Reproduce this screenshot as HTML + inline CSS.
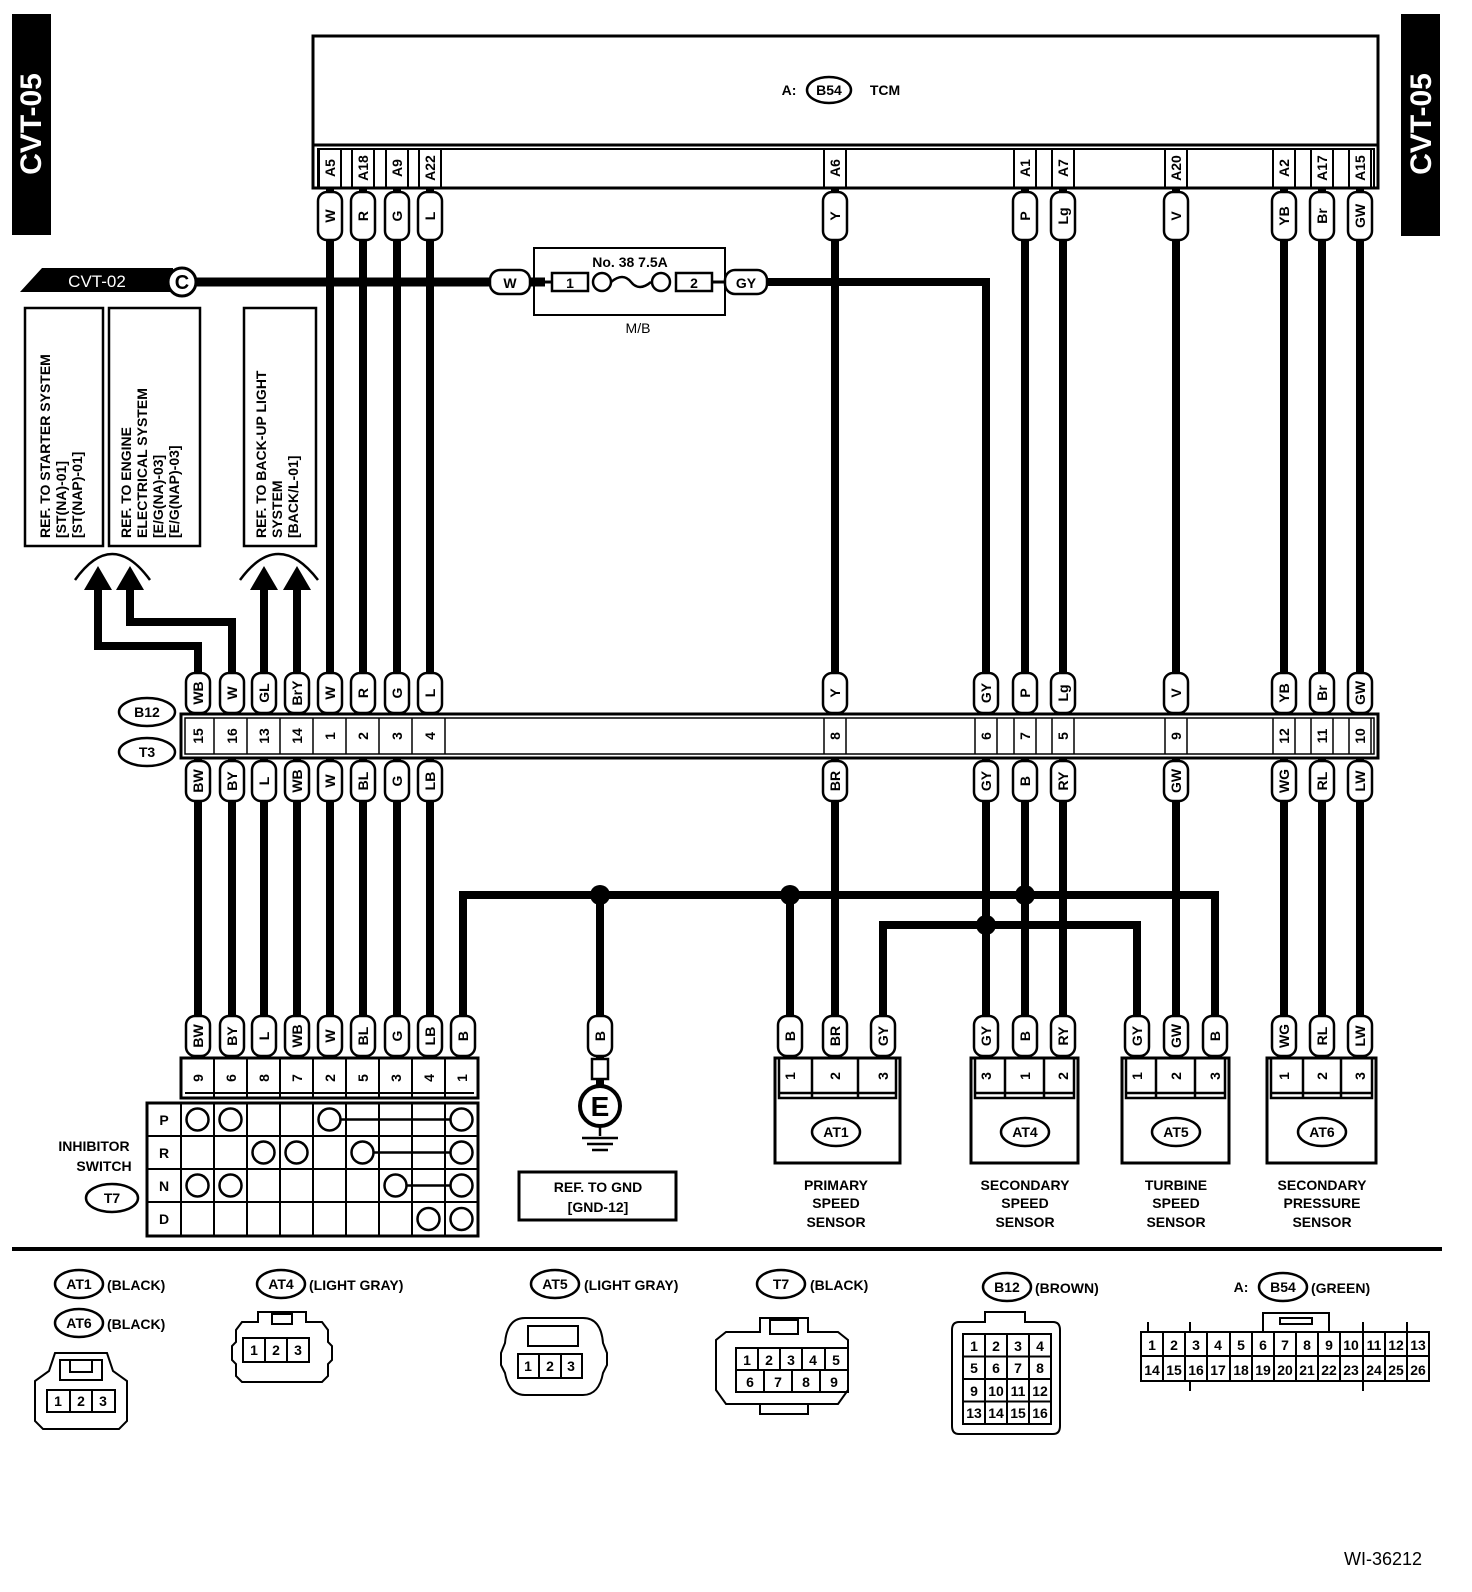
<!DOCTYPE html>
<html><head><meta charset="utf-8"><style>
body{margin:0;background:#fff}
svg{display:block}
text{font-family:"Liberation Sans",sans-serif;font-weight:bold;font-size:14px;text-anchor:middle;fill:#000}
.p rect{fill:#fff;stroke:#000;stroke-width:2.5}
.w{fill:none;stroke:#000;stroke-width:8}
.t{fill:none;stroke:#000;stroke-width:2.5}
.c{fill:#fff;stroke:#000;stroke-width:2.5}
.n{font-weight:normal;font-size:14px}
.s{text-anchor:start}
</style></head><body>
<svg width="1472" height="1592" viewBox="0 0 1472 1592" xmlns="http://www.w3.org/2000/svg">
<rect width="1472" height="1592" fill="#fff"/>
<rect x="12" y="14" width="39" height="221" fill="#000"/>
<text transform="translate(41,124) rotate(-90)" style="fill:#fff;font-size:30px">CVT-05</text>
<rect x="1401" y="14" width="39" height="222" fill="#000"/>
<text transform="translate(1431,124) rotate(-90)" style="fill:#fff;font-size:30px">CVT-05</text>

<g class="w">
<path d="M330 188V1058M363 188V1058M397 188V1058M430 188V1058M835 188V1058"/>
<path d="M1025 188V1058M1063 188V1058M1176 188V1058M1284 188V1058M1322 188V1058M1360 188V1058"/>
<path d="M750 282H986V1058" />
<path d="M198 1058V646H98V588M232 1058V622H130V588M264 1058V588M297 1058V588"/>
<path d="M463 1058V895H1215V1058M790 895V1058M600 895V1095M883 1058V925H1137V1058"/>
</g>
<path d="M190 282H545" stroke="#000" stroke-width="9"/>
<g fill="#000">
<circle cx="600" cy="895" r="10"/><circle cx="790" cy="895" r="10"/><circle cx="1025" cy="895" r="10"/><circle cx="986" cy="925" r="10"/>
<polygon points="98,566 84,590 112,590"/><polygon points="130,566 116,590 144,590"/>
<polygon points="264,566 250,590 278,590"/><polygon points="297,566 283,590 311,590"/>
</g>
<path class="t" d="M75 580Q112 528 150 580M240 580Q278 528 318 580"/>

<polygon points="20,292 42,268 173,268 173,292" fill="#000"/>
<text x="97" y="287" style="fill:#fff;font-weight:normal;font-size:17px">CVT-02</text>
<circle cx="182" cy="282" r="14" fill="#fff" stroke="#000" stroke-width="3"/>
<text x="182" y="289" style="font-size:20px">C</text>

<rect x="313" y="36" width="1065" height="152" class="t" fill="#fff" style="stroke-width:3"/>
<line x1="313" y1="145" x2="1378" y2="145" stroke="#000" stroke-width="3"/>
<rect x="318" y="149" width="1056" height="39" fill="none" stroke="#000" stroke-width="2"/>
<text x="789" y="95">A:</text>
<ellipse cx="829" cy="90" rx="22" ry="13" class="c"/><text x="829" y="95">B54</text>
<text x="885" y="95">TCM</text>
<g class="t" style="stroke-width:2">
<path d="M319 149v39M341 149v39M352 149v39M374 149v39M386 149v39M408 149v39M419 149v39M441 149v39M824 149v39M846 149v39M1014 149v39M1036 149v39M1052 149v39M1074 149v39M1165 149v39M1187 149v39M1273 149v39M1295 149v39M1311 149v39M1333 149v39M1349 149v39M1371 149v39"/>
</g>
<g style="font-size:13px">
<text transform="translate(335,168) rotate(-90)">A5</text>
<text transform="translate(368,168) rotate(-90)">A18</text>
<text transform="translate(402,168) rotate(-90)">A9</text>
<text transform="translate(435,168) rotate(-90)">A22</text>
<text transform="translate(840,168) rotate(-90)">A6</text>
<text transform="translate(1030,168) rotate(-90)">A1</text>
<text transform="translate(1068,168) rotate(-90)">A7</text>
<text transform="translate(1181,168) rotate(-90)">A20</text>
<text transform="translate(1289,168) rotate(-90)">A2</text>
<text transform="translate(1327,168) rotate(-90)">A17</text>
<text transform="translate(1365,168) rotate(-90)">A15</text>
</g>

<rect x="534" y="248" width="191" height="67" class="t" fill="#fff" style="stroke-width:2"/>
<text x="630" y="267">No. 38 7.5A</text>
<rect x="552" y="273" width="36" height="18" class="c"/><text x="570" y="288">1</text>
<rect x="676" y="273" width="36" height="18" class="c"/><text x="694" y="288">2</text>
<circle cx="602" cy="282" r="9" class="c"/><circle cx="661" cy="282" r="9" class="c"/>
<path class="t" d="M611 282q12-10 20 0t20 0"/>
<line x1="545" y1="282" x2="552" y2="282" stroke="#000" stroke-width="3"/>
<line x1="712" y1="282" x2="750" y2="282" stroke="#000" stroke-width="3"/>
<text x="638" y="333" class="n">M/B</text>
<g class="p"><rect x="490" y="270" width="40" height="24" rx="10"/><text x="510" y="288">W</text></g>
<g class="p"><rect x="725" y="270" width="42" height="24" rx="10"/><text x="746" y="288">GY</text></g>

<g class="t">
<rect x="25" y="308" width="78" height="238"/><rect x="109" y="308" width="91" height="238"/><rect x="244" y="308" width="72" height="238"/>
</g>
<g style="font-size:15.5px">
<text transform="translate(50,538) rotate(-90)" class="s">REF. TO STARTER SYSTEM</text>
<text transform="translate(66,538) rotate(-90)" class="s">[ST(NA)-01]</text>
<text transform="translate(82,538) rotate(-90)" class="s">[ST(NAP)-01]</text>
<text transform="translate(131,538) rotate(-90)" class="s">REF. TO ENGINE</text>
<text transform="translate(147,538) rotate(-90)" class="s">ELECTRICAL SYSTEM</text>
<text transform="translate(163,538) rotate(-90)" class="s">[E/G(NA)-03]</text>
<text transform="translate(179,538) rotate(-90)" class="s">[E/G(NAP)-03]</text>
<text transform="translate(266,538) rotate(-90)" class="s">REF. TO BACK-UP LIGHT</text>
<text transform="translate(282,538) rotate(-90)" class="s">SYSTEM</text>
<text transform="translate(298,538) rotate(-90)" class="s">[BACK/L-01]</text>
</g>

<rect x="181" y="714" width="1197" height="44" fill="#fff" stroke="#000" stroke-width="3"/>
<rect x="185" y="718" width="1189" height="36" fill="none" stroke="#000" stroke-width="1.5"/>
<path class="t" style="stroke-width:1.5" d="M214 718v36M247 718v36M280 718v36M313 718v36M346 718v36M379 718v36M412 718v36M445 718v36M824 718v36M846 718v36M975 718v36M997 718v36M1014 718v36M1036 718v36M1052 718v36M1074 718v36M1165 718v36M1187 718v36M1273 718v36M1295 718v36M1311 718v36M1333 718v36M1349 718v36M1371 718v36"/>
<g style="font-size:13px">
<text transform="translate(203,736) rotate(-90)">15</text><text transform="translate(237,736) rotate(-90)">16</text>
<text transform="translate(269,736) rotate(-90)">13</text><text transform="translate(302,736) rotate(-90)">14</text>
<text transform="translate(335,736) rotate(-90)">1</text><text transform="translate(368,736) rotate(-90)">2</text>
<text transform="translate(402,736) rotate(-90)">3</text><text transform="translate(435,736) rotate(-90)">4</text>
<text transform="translate(840,736) rotate(-90)">8</text><text transform="translate(991,736) rotate(-90)">6</text>
<text transform="translate(1030,736) rotate(-90)">7</text><text transform="translate(1068,736) rotate(-90)">5</text>
<text transform="translate(1181,736) rotate(-90)">9</text><text transform="translate(1289,736) rotate(-90)">12</text>
<text transform="translate(1327,736) rotate(-90)">11</text><text transform="translate(1365,736) rotate(-90)">10</text>
</g>
<ellipse cx="147" cy="712" rx="28" ry="14" class="c"/><text x="147" y="717">B12</text>
<ellipse cx="147" cy="752" rx="28" ry="14" class="c"/><text x="147" y="757">T3</text>

<g class="p">
<g transform="translate(330,216)"><rect x="-12" y="-24" width="24" height="48" rx="9"/><text transform="rotate(-90)" y="5">W</text></g>
<g transform="translate(363,216)"><rect x="-12" y="-24" width="24" height="48" rx="9"/><text transform="rotate(-90)" y="5">R</text></g>
<g transform="translate(397,216)"><rect x="-12" y="-24" width="24" height="48" rx="9"/><text transform="rotate(-90)" y="5">G</text></g>
<g transform="translate(430,216)"><rect x="-12" y="-24" width="24" height="48" rx="9"/><text transform="rotate(-90)" y="5">L</text></g>
<g transform="translate(835,216)"><rect x="-12" y="-24" width="24" height="48" rx="9"/><text transform="rotate(-90)" y="5">Y</text></g>
<g transform="translate(1025,216)"><rect x="-12" y="-24" width="24" height="48" rx="9"/><text transform="rotate(-90)" y="5">P</text></g>
<g transform="translate(1063,216)"><rect x="-12" y="-24" width="24" height="48" rx="9"/><text transform="rotate(-90)" y="5">Lg</text></g>
<g transform="translate(1176,216)"><rect x="-12" y="-24" width="24" height="48" rx="9"/><text transform="rotate(-90)" y="5">V</text></g>
<g transform="translate(1284,216)"><rect x="-12" y="-24" width="24" height="48" rx="9"/><text transform="rotate(-90)" y="5">YB</text></g>
<g transform="translate(1322,216)"><rect x="-12" y="-24" width="24" height="48" rx="9"/><text transform="rotate(-90)" y="5">Br</text></g>
<g transform="translate(1360,216)"><rect x="-12" y="-24" width="24" height="48" rx="9"/><text transform="rotate(-90)" y="5">GW</text></g>
<g transform="translate(198,693)"><rect x="-12" y="-20" width="24" height="40" rx="9"/><text transform="rotate(-90)" y="5">WB</text></g>
<g transform="translate(232,693)"><rect x="-12" y="-20" width="24" height="40" rx="9"/><text transform="rotate(-90)" y="5">W</text></g>
<g transform="translate(264,693)"><rect x="-12" y="-20" width="24" height="40" rx="9"/><text transform="rotate(-90)" y="5">GL</text></g>
<g transform="translate(297,693)"><rect x="-12" y="-20" width="24" height="40" rx="9"/><text transform="rotate(-90)" y="5">BrY</text></g>
<g transform="translate(330,693)"><rect x="-12" y="-20" width="24" height="40" rx="9"/><text transform="rotate(-90)" y="5">W</text></g>
<g transform="translate(363,693)"><rect x="-12" y="-20" width="24" height="40" rx="9"/><text transform="rotate(-90)" y="5">R</text></g>
<g transform="translate(397,693)"><rect x="-12" y="-20" width="24" height="40" rx="9"/><text transform="rotate(-90)" y="5">G</text></g>
<g transform="translate(430,693)"><rect x="-12" y="-20" width="24" height="40" rx="9"/><text transform="rotate(-90)" y="5">L</text></g>
<g transform="translate(835,693)"><rect x="-12" y="-20" width="24" height="40" rx="9"/><text transform="rotate(-90)" y="5">Y</text></g>
<g transform="translate(986,693)"><rect x="-12" y="-20" width="24" height="40" rx="9"/><text transform="rotate(-90)" y="5">GY</text></g>
<g transform="translate(1025,693)"><rect x="-12" y="-20" width="24" height="40" rx="9"/><text transform="rotate(-90)" y="5">P</text></g>
<g transform="translate(1063,693)"><rect x="-12" y="-20" width="24" height="40" rx="9"/><text transform="rotate(-90)" y="5">Lg</text></g>
<g transform="translate(1176,693)"><rect x="-12" y="-20" width="24" height="40" rx="9"/><text transform="rotate(-90)" y="5">V</text></g>
<g transform="translate(1284,693)"><rect x="-12" y="-20" width="24" height="40" rx="9"/><text transform="rotate(-90)" y="5">YB</text></g>
<g transform="translate(1322,693)"><rect x="-12" y="-20" width="24" height="40" rx="9"/><text transform="rotate(-90)" y="5">Br</text></g>
<g transform="translate(1360,693)"><rect x="-12" y="-20" width="24" height="40" rx="9"/><text transform="rotate(-90)" y="5">GW</text></g>
<g transform="translate(198,781)"><rect x="-12" y="-20" width="24" height="40" rx="9"/><text transform="rotate(-90)" y="5">BW</text></g>
<g transform="translate(232,781)"><rect x="-12" y="-20" width="24" height="40" rx="9"/><text transform="rotate(-90)" y="5">BY</text></g>
<g transform="translate(264,781)"><rect x="-12" y="-20" width="24" height="40" rx="9"/><text transform="rotate(-90)" y="5">L</text></g>
<g transform="translate(297,781)"><rect x="-12" y="-20" width="24" height="40" rx="9"/><text transform="rotate(-90)" y="5">WB</text></g>
<g transform="translate(330,781)"><rect x="-12" y="-20" width="24" height="40" rx="9"/><text transform="rotate(-90)" y="5">W</text></g>
<g transform="translate(363,781)"><rect x="-12" y="-20" width="24" height="40" rx="9"/><text transform="rotate(-90)" y="5">BL</text></g>
<g transform="translate(397,781)"><rect x="-12" y="-20" width="24" height="40" rx="9"/><text transform="rotate(-90)" y="5">G</text></g>
<g transform="translate(430,781)"><rect x="-12" y="-20" width="24" height="40" rx="9"/><text transform="rotate(-90)" y="5">LB</text></g>
<g transform="translate(835,781)"><rect x="-12" y="-20" width="24" height="40" rx="9"/><text transform="rotate(-90)" y="5">BR</text></g>
<g transform="translate(986,781)"><rect x="-12" y="-20" width="24" height="40" rx="9"/><text transform="rotate(-90)" y="5">GY</text></g>
<g transform="translate(1025,781)"><rect x="-12" y="-20" width="24" height="40" rx="9"/><text transform="rotate(-90)" y="5">B</text></g>
<g transform="translate(1063,781)"><rect x="-12" y="-20" width="24" height="40" rx="9"/><text transform="rotate(-90)" y="5">RY</text></g>
<g transform="translate(1176,781)"><rect x="-12" y="-20" width="24" height="40" rx="9"/><text transform="rotate(-90)" y="5">GW</text></g>
<g transform="translate(1284,781)"><rect x="-12" y="-20" width="24" height="40" rx="9"/><text transform="rotate(-90)" y="5">WG</text></g>
<g transform="translate(1322,781)"><rect x="-12" y="-20" width="24" height="40" rx="9"/><text transform="rotate(-90)" y="5">RL</text></g>
<g transform="translate(1360,781)"><rect x="-12" y="-20" width="24" height="40" rx="9"/><text transform="rotate(-90)" y="5">LW</text></g>
<g transform="translate(198,1036)"><rect x="-12" y="-20" width="24" height="40" rx="9"/><text transform="rotate(-90)" y="5">BW</text></g>
<g transform="translate(232,1036)"><rect x="-12" y="-20" width="24" height="40" rx="9"/><text transform="rotate(-90)" y="5">BY</text></g>
<g transform="translate(264,1036)"><rect x="-12" y="-20" width="24" height="40" rx="9"/><text transform="rotate(-90)" y="5">L</text></g>
<g transform="translate(297,1036)"><rect x="-12" y="-20" width="24" height="40" rx="9"/><text transform="rotate(-90)" y="5">WB</text></g>
<g transform="translate(330,1036)"><rect x="-12" y="-20" width="24" height="40" rx="9"/><text transform="rotate(-90)" y="5">W</text></g>
<g transform="translate(363,1036)"><rect x="-12" y="-20" width="24" height="40" rx="9"/><text transform="rotate(-90)" y="5">BL</text></g>
<g transform="translate(397,1036)"><rect x="-12" y="-20" width="24" height="40" rx="9"/><text transform="rotate(-90)" y="5">G</text></g>
<g transform="translate(430,1036)"><rect x="-12" y="-20" width="24" height="40" rx="9"/><text transform="rotate(-90)" y="5">LB</text></g>
<g transform="translate(463,1036)"><rect x="-12" y="-20" width="24" height="40" rx="9"/><text transform="rotate(-90)" y="5">B</text></g>
<g transform="translate(600,1036)"><rect x="-12" y="-20" width="24" height="40" rx="9"/><text transform="rotate(-90)" y="5">B</text></g>
<g transform="translate(790,1036)"><rect x="-12" y="-20" width="24" height="40" rx="9"/><text transform="rotate(-90)" y="5">B</text></g>
<g transform="translate(835,1036)"><rect x="-12" y="-20" width="24" height="40" rx="9"/><text transform="rotate(-90)" y="5">BR</text></g>
<g transform="translate(883,1036)"><rect x="-12" y="-20" width="24" height="40" rx="9"/><text transform="rotate(-90)" y="5">GY</text></g>
<g transform="translate(986,1036)"><rect x="-12" y="-20" width="24" height="40" rx="9"/><text transform="rotate(-90)" y="5">GY</text></g>
<g transform="translate(1025,1036)"><rect x="-12" y="-20" width="24" height="40" rx="9"/><text transform="rotate(-90)" y="5">B</text></g>
<g transform="translate(1063,1036)"><rect x="-12" y="-20" width="24" height="40" rx="9"/><text transform="rotate(-90)" y="5">RY</text></g>
<g transform="translate(1137,1036)"><rect x="-12" y="-20" width="24" height="40" rx="9"/><text transform="rotate(-90)" y="5">GY</text></g>
<g transform="translate(1176,1036)"><rect x="-12" y="-20" width="24" height="40" rx="9"/><text transform="rotate(-90)" y="5">GW</text></g>
<g transform="translate(1215,1036)"><rect x="-12" y="-20" width="24" height="40" rx="9"/><text transform="rotate(-90)" y="5">B</text></g>
<g transform="translate(1284,1036)"><rect x="-12" y="-20" width="24" height="40" rx="9"/><text transform="rotate(-90)" y="5">WG</text></g>
<g transform="translate(1322,1036)"><rect x="-12" y="-20" width="24" height="40" rx="9"/><text transform="rotate(-90)" y="5">RL</text></g>
<g transform="translate(1360,1036)"><rect x="-12" y="-20" width="24" height="40" rx="9"/><text transform="rotate(-90)" y="5">LW</text></g>
</g>

<rect x="592" y="1059" width="16" height="20" class="c"/>
<circle cx="600" cy="1106" r="20" fill="#fff" stroke="#000" stroke-width="4"/>
<text x="600" y="1116" style="font-size:28px">E</text>
<path class="t" d="M600 1126v10M582 1138h36M587 1144h26M592 1150h16"/>
<rect x="519" y="1172" width="157" height="48" class="t" style="stroke-width:3"/>
<text x="598" y="1192">REF. TO GND</text><text x="598" y="1212">[GND-12]</text>

<rect x="181" y="1058" width="297" height="40" class="c" style="stroke-width:3"/>
<path class="t" style="stroke-width:2" d="M214 1058v40M247 1058v40M280 1058v40M313 1058v40M346 1058v40M379 1058v40M412 1058v40M445 1058v40M185 1093h289"/>
<g style="font-size:13px">
<text transform="translate(203,1078) rotate(-90)">9</text><text transform="translate(236,1078) rotate(-90)">6</text>
<text transform="translate(269,1078) rotate(-90)">8</text><text transform="translate(302,1078) rotate(-90)">7</text>
<text transform="translate(335,1078) rotate(-90)">2</text><text transform="translate(368,1078) rotate(-90)">5</text>
<text transform="translate(401,1078) rotate(-90)">3</text><text transform="translate(434,1078) rotate(-90)">4</text>
<text transform="translate(467,1078) rotate(-90)">1</text>
</g>
<rect x="147" y="1103" width="331" height="133" fill="#fff" stroke="#000" stroke-width="3"/>
<path class="t" style="stroke-width:2" d="M147 1136h331M147 1169h331M147 1202h331M181 1103v133M214 1103v133M247 1103v133M280 1103v133M313 1103v133M346 1103v133M379 1103v133M412 1103v133M445 1103v133"/>
<text x="164" y="1125">P</text><text x="164" y="1158">R</text><text x="164" y="1191">N</text><text x="164" y="1224">D</text>
<path class="t" d="M340 1119.5H451M373 1152.5H451M406 1185.5H451"/>
<g class="c">
<circle cx="197.5" cy="1119.5" r="11"/><circle cx="230.5" cy="1119.5" r="11"/><circle cx="329.5" cy="1119.5" r="11"/><circle cx="461.5" cy="1119.5" r="11"/>
<circle cx="263.5" cy="1152.5" r="11"/><circle cx="296.5" cy="1152.5" r="11"/><circle cx="362.5" cy="1152.5" r="11"/><circle cx="461.5" cy="1152.5" r="11"/>
<circle cx="197.5" cy="1185.5" r="11"/><circle cx="230.5" cy="1185.5" r="11"/><circle cx="395.5" cy="1185.5" r="11"/><circle cx="461.5" cy="1185.5" r="11"/>
<circle cx="428.5" cy="1219" r="11"/><circle cx="461.5" cy="1219" r="11"/>
</g>
<text x="94" y="1151">INHIBITOR</text><text x="104" y="1171">SWITCH</text>
<ellipse cx="112" cy="1198" rx="26" ry="14" class="c"/><text x="112" y="1203">T7</text>

<g>
<rect x="775" y="1058" width="125" height="105" class="c" style="stroke-width:3"/>
<path class="t" d="M779 1058v40h117v-40M779 1093h117M812 1058v40M858 1058v40"/>
<text transform="translate(795,1076) rotate(-90)">1</text><text transform="translate(840,1076) rotate(-90)">2</text><text transform="translate(888,1076) rotate(-90)">3</text>
<ellipse cx="836" cy="1132" rx="24" ry="14" class="c"/><text x="836" y="1137">AT1</text>
<text x="836" y="1190">PRIMARY</text><text x="836" y="1208">SPEED</text><text x="836" y="1227">SENSOR</text>

<rect x="971" y="1058" width="107" height="105" class="c" style="stroke-width:3"/>
<path class="t" d="M975 1058v40h99v-40M975 1093h99M1005 1058v40M1044 1058v40"/>
<text transform="translate(991,1076) rotate(-90)">3</text><text transform="translate(1030,1076) rotate(-90)">1</text><text transform="translate(1068,1076) rotate(-90)">2</text>
<ellipse cx="1025" cy="1132" rx="24" ry="14" class="c"/><text x="1025" y="1137">AT4</text>
<text x="1025" y="1190">SECONDARY</text><text x="1025" y="1208">SPEED</text><text x="1025" y="1227">SENSOR</text>

<rect x="1122" y="1058" width="107" height="105" class="c" style="stroke-width:3"/>
<path class="t" d="M1126 1058v40h99v-40M1126 1093h99M1156 1058v40M1195 1058v40"/>
<text transform="translate(1142,1076) rotate(-90)">1</text><text transform="translate(1181,1076) rotate(-90)">2</text><text transform="translate(1220,1076) rotate(-90)">3</text>
<ellipse cx="1176" cy="1132" rx="24" ry="14" class="c"/><text x="1176" y="1137">AT5</text>
<text x="1176" y="1190">TURBINE</text><text x="1176" y="1208">SPEED</text><text x="1176" y="1227">SENSOR</text>

<rect x="1267" y="1058" width="109" height="105" class="c" style="stroke-width:3"/>
<path class="t" d="M1271 1058v40h101v-40M1271 1093h101M1303 1058v40M1341 1058v40"/>
<text transform="translate(1289,1076) rotate(-90)">1</text><text transform="translate(1327,1076) rotate(-90)">2</text><text transform="translate(1365,1076) rotate(-90)">3</text>
<ellipse cx="1322" cy="1132" rx="24" ry="14" class="c"/><text x="1322" y="1137">AT6</text>
<text x="1322" y="1190">SECONDARY</text><text x="1322" y="1208">PRESSURE</text><text x="1322" y="1227">SENSOR</text>
</g>

<rect x="12" y="1247" width="1430" height="4" fill="#000"/>

<g style="font-size:15px">
<ellipse cx="79" cy="1284" rx="24" ry="14" class="c"/><text x="79" y="1289">AT1</text><text x="107" y="1290" class="s">(BLACK)</text>
<ellipse cx="79" cy="1323" rx="24" ry="14" class="c"/><text x="79" y="1328">AT6</text><text x="107" y="1329" class="s">(BLACK)</text>
<ellipse cx="281" cy="1284" rx="24" ry="14" class="c"/><text x="281" y="1289">AT4</text><text x="309" y="1290" class="s">(LIGHT GRAY)</text>
<ellipse cx="555" cy="1284" rx="24" ry="14" class="c"/><text x="555" y="1289">AT5</text><text x="584" y="1290" class="s">(LIGHT GRAY)</text>
<ellipse cx="781" cy="1284" rx="24" ry="14" class="c"/><text x="781" y="1289">T7</text><text x="810" y="1290" class="s">(BLACK)</text>
<ellipse cx="1007" cy="1287" rx="24" ry="14" class="c"/><text x="1007" y="1292">B12</text><text x="1035" y="1293" class="s">(BROWN)</text>
<text x="1241" y="1292">A:</text>
<ellipse cx="1283" cy="1287" rx="24" ry="14" class="c"/><text x="1283" y="1292">B54</text><text x="1311" y="1293" class="s">(GREEN)</text>
</g>
<g class="t" style="stroke-width:2">
<path d="M55 1353h52l6 18l14 10v40l-8 8H43l-8-8v-40l14-10z"/>
<path d="M60 1360h42v20H60zM70 1360v12h22v-12"/>
<rect x="47" y="1390" width="68" height="22"/>
<path d="M70 1390v22M92 1390v22"/>
<path d="M258 1312h48v10h16l6 8v12l4 4v14l-4 4v12l-6 6H242l-6-6v-12l-4-4v-14l4-4v-12l6-8h16z"/>
<rect x="272" y="1314" width="20" height="10"/>
<rect x="243" y="1338" width="66" height="24"/><path d="M265 1338v24M287 1338v24"/>
<path d="M525 1318h58q18 0 20 25l4 10v12l-4 8q-4 22-20 22H525q-16 0-20-22l-4-8v-12l4-10q2-25 20-25z"/>
<rect x="528" y="1326" width="50" height="20"/>
<rect x="518" y="1354" width="64" height="24"/><path d="M539 1354v24M561 1354v24"/>
<path d="M760 1318h48v14h30l10 8v50l-10 14H726l-10-14v-50l10-8h34z"/>
<rect x="770" y="1320" width="28" height="14"/>
<rect x="736" y="1348" width="112" height="44"/>
<path d="M736 1370h112M758 1348v22M780 1348v22M802 1348v22M825 1348v22M764 1370v22M792 1370v22M820 1370v22"/>
<path d="M760 1404v10h48v-10"/>
<path d="M985 1312h40v10h28q7 0 7 8v96q0 8-7 8h-94q-7 0-7-8v-96q0-8 7-8h26z"/>
<rect x="963" y="1334" width="88" height="90"/>
<path d="M985 1334v90M1007 1334v90M1029 1334v90M963 1356.5h88M963 1379h88M963 1401.5h88"/>
<rect x="1141" y="1332" width="288" height="49"/>
<path d="M1141 1356h288"/>
<path d="M1163 1332v49M1185 1332v49M1207 1332v49M1230 1332v49M1252 1332v49M1274 1332v49M1296 1332v49M1318 1332v49M1340 1332v49M1363 1332v49M1385 1332v49M1407 1332v49"/>
<rect x="1263" y="1313" width="66" height="19"/><rect x="1280" y="1318" width="32" height="6"/>
<path d="M1148 1332v-10M1190 1332v-10M1363 1332v-10M1407 1332v-10M1190 1381v10M1363 1381v10"/>
</g>
<g class="n">
<text x="58" y="1406">1</text><text x="81" y="1406">2</text><text x="103" y="1406">3</text>
<text x="254" y="1355">1</text><text x="276" y="1355">2</text><text x="298" y="1355">3</text>
<text x="528" y="1371">1</text><text x="550" y="1371">2</text><text x="571" y="1371">3</text>
<text x="747" y="1365">1</text><text x="769" y="1365">2</text><text x="791" y="1365">3</text><text x="813" y="1365">4</text><text x="836" y="1365">5</text>
<text x="750" y="1387">6</text><text x="778" y="1387">7</text><text x="806" y="1387">8</text><text x="834" y="1387">9</text>
<text x="974" y="1351">1</text><text x="996" y="1351">2</text><text x="1018" y="1351">3</text><text x="1040" y="1351">4</text>
<text x="974" y="1373">5</text><text x="996" y="1373">6</text><text x="1018" y="1373">7</text><text x="1040" y="1373">8</text>
<text x="974" y="1396">9</text><text x="996" y="1396">10</text><text x="1018" y="1396">11</text><text x="1040" y="1396">12</text>
<text x="974" y="1418">13</text><text x="996" y="1418">14</text><text x="1018" y="1418">15</text><text x="1040" y="1418">16</text>
<text x="1152" y="1350">1</text><text x="1174" y="1350">2</text><text x="1196" y="1350">3</text><text x="1218" y="1350">4</text><text x="1241" y="1350">5</text><text x="1263" y="1350">6</text><text x="1285" y="1350">7</text><text x="1307" y="1350">8</text><text x="1329" y="1350">9</text><text x="1351" y="1350">10</text><text x="1374" y="1350">11</text><text x="1396" y="1350">12</text><text x="1418" y="1350">13</text>
<text x="1152" y="1375">14</text><text x="1174" y="1375">15</text><text x="1196" y="1375">16</text><text x="1218" y="1375">17</text><text x="1241" y="1375">18</text><text x="1263" y="1375">19</text><text x="1285" y="1375">20</text><text x="1307" y="1375">21</text><text x="1329" y="1375">22</text><text x="1351" y="1375">23</text><text x="1374" y="1375">24</text><text x="1396" y="1375">25</text><text x="1418" y="1375">26</text>
</g>
<text x="1383" y="1565" style="font-weight:normal;font-size:18px">WI-36212</text>
</svg>
</body></html>
